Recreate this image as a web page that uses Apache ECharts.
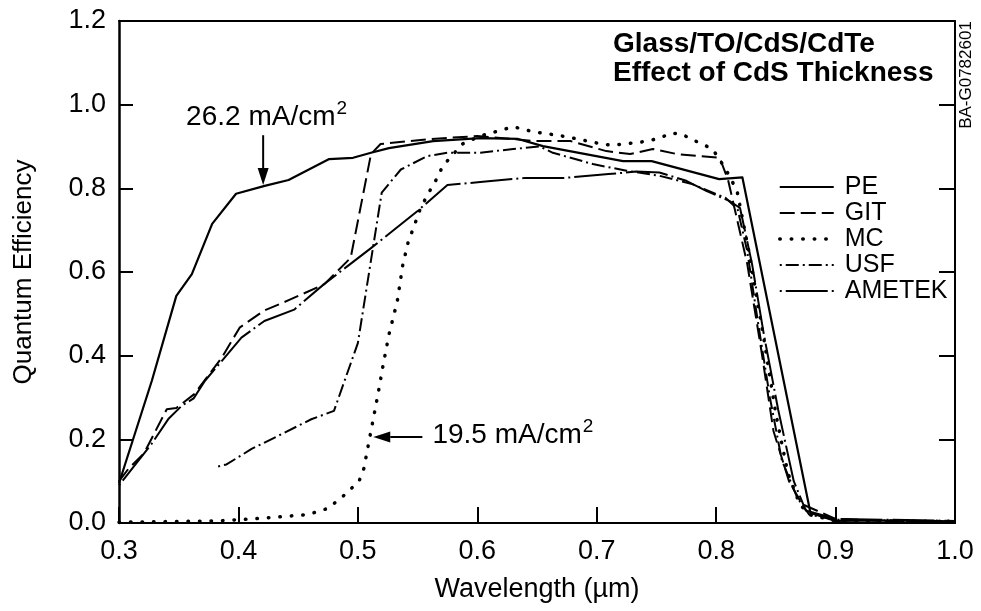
<!DOCTYPE html>
<html><head><meta charset="utf-8">
<script src="https://cdn.jsdelivr.net/npm/echarts@6/dist/echarts.min.js"></script>
<style>html,body{margin:0;padding:0;background:#fff}#c{width:981px;height:611px}</style>
</head><body><div id="c"></div>
<script>
const FONT = "'Liberation Sans', Arial, Helvetica, sans-serif";

// ---- tick labels ----
const xTickLabels = ['0.3','0.4','0.5','0.6','0.7','0.8','0.9','1.0'];
const yTickLabels = ['0.0','0.2','0.4','0.6','0.8','1.0','1.2'];
const seriesNames = ['PE','GIT','MC','USF','AMETEK'];

// ---- series values (wavelength in µm, quantum efficiency) ----
const peX = [0.3,0.3275,0.348,0.361,0.378,0.398,0.422,0.442,0.476,0.496,0.511,0.526,0.563,0.6025,0.634,0.655,0.722,0.746,0.8025,0.822,0.879,0.9,0.95,1.0];
const peY = [0.095,0.34,0.543,0.595,0.715,0.787,0.806,0.82,0.87,0.873,0.885,0.896,0.913,0.92,0.918,0.901,0.865,0.865,0.822,0.826,0.024,0.005,0.006,0.003];

const gitX = [0.3,0.308,0.321,0.34,0.348,0.363,0.386,0.401,0.421,0.444,0.472,0.494,0.511,0.519,0.561,0.6,0.63,0.648,0.678,0.708,0.728,0.747,0.767,0.803,0.81,0.826,0.838,0.848,0.861,0.872,0.9,0.95,1.0];
const gitY = [0.1,0.13,0.167,0.272,0.275,0.308,0.395,0.467,0.507,0.535,0.571,0.634,0.882,0.906,0.918,0.925,0.918,0.913,0.913,0.889,0.882,0.894,0.882,0.873,0.82,0.62,0.41,0.22,0.10,0.045,0.01,0.004,0.005];

const mcX = [0.3,0.33,0.36,0.383,0.413,0.458,0.475,0.488,0.501,0.505,0.509,0.513,0.517,0.521,0.526,0.533,0.5375,0.542,0.548,0.5525,0.561,0.5665,0.571,0.5875,0.6025,0.611,0.621,0.63,0.638,0.647,0.667,0.684,0.704,0.713,0.722,0.733,0.7425,0.7525,0.7625,0.771,0.779,0.788,0.797,0.808,0.8175,0.828,0.84,0.85,0.86,0.87,0.878,0.9,1.0];
const mcY = [0.002,0.003,0.004,0.005,0.01,0.02,0.035,0.065,0.10,0.13,0.19,0.25,0.31,0.375,0.45,0.53,0.615,0.67,0.717,0.753,0.798,0.825,0.853,0.906,0.925,0.932,0.94,0.947,0.942,0.935,0.927,0.918,0.906,0.903,0.906,0.909,0.913,0.92,0.932,0.93,0.918,0.906,0.894,0.846,0.794,0.64,0.44,0.26,0.12,0.045,0.02,0.005,0.004];

const usfX = [0.383,0.39,0.411,0.433,0.461,0.48,0.5,0.52,0.536,0.558,0.575,0.6025,0.63,0.6525,0.6633,0.6967,0.725,0.7525,0.78,0.808,0.818,0.826,0.835,0.845,0.855,0.868,0.878,0.9,1.0];
const usfY = [0.135,0.14,0.177,0.208,0.248,0.268,0.43,0.79,0.845,0.877,0.885,0.885,0.894,0.9,0.885,0.858,0.842,0.83,0.81,0.777,0.75,0.65,0.48,0.30,0.15,0.06,0.02,0.008,0.004];

const ametekX = [0.3,0.311,0.3275,0.3417,0.3525,0.3625,0.372,0.386,0.4025,0.4217,0.4467,0.4717,0.511,0.55,0.575,0.6025,0.64,0.673,0.71,0.733,0.7525,0.775,0.7917,0.811,0.82,0.83,0.84,0.852,0.865,0.875,0.9,1.0];
const ametekY = [0.09,0.13,0.19,0.25,0.28,0.298,0.34,0.387,0.443,0.483,0.51,0.571,0.657,0.746,0.808,0.815,0.825,0.825,0.834,0.84,0.838,0.818,0.794,0.77,0.753,0.62,0.45,0.27,0.10,0.03,0.01,0.005];

// ---- texts ----
const titleLines = ['Glass/TO/CdS/CdTe', 'Effect of CdS Thickness'];
const sideLabel = 'BA-G0782601';
const xName = 'Wavelength (\u00B5m)';
const yName = 'Quantum Efficiency';
const annotations = [
  { text: '26.2 mA/cm', sup: '2', textAt: [0.3562, 0.969], tip: [0.4207, 0.808], tail: [0.4207, 0.927] },
  { text: '19.5 mA/cm', sup: '2', textAt: [0.5624, 0.209], tip: [0.5129, 0.2055], tail: [0.554, 0.2055] }
];

function pts(xs, ys) { return xs.map((x, i) => [x, ys[i]]); }

const styles = {
  PE:     { width: 2.2, type: 'solid', cap: 'butt' },
  GIT:    { width: 2,   type: [15, 6], cap: 'butt' },
  MC:     { width: 3.5, type: [0.5, 11], cap: 'round' },
  USF:    { width: 2,   type: [2, 4, 13, 4], cap: 'butt' },
  AMETEK: { width: 2,   type: [2, 4, 42, 4], cap: 'butt' }
};
const dataSets = { PE: pts(peX, peY), GIT: pts(gitX, gitY), MC: pts(mcX, mcY), USF: pts(usfX, usfY), AMETEK: pts(ametekX, ametekY) };

const axisLineStyle = { color: '#000', width: 2 };
const option = {
  animation: false,
  backgroundColor: '#fff',
  grid: { left: 119, right: 26, top: 21, bottom: 88, containLabel: false, outerBoundsMode: 'none' },
  legend: {
    orient: 'vertical', left: 778, top: 174, padding: 0,
    itemWidth: 54, itemHeight: 14, itemGap: 0,
    selectedMode: false,
    itemStyle: { opacity: 0 },
    lineStyle: { width: 'inherit' },
    textStyle: { fontSize: 25, lineHeight: 26, color: '#000', fontFamily: FONT, padding: [0, 0, 0, 6] },
    data: seriesNames
  },
  xAxis: [
    {
      type: 'value', min: 0.3, max: 1.0, interval: 0.1, position: 'bottom',
      name: xName, nameLocation: 'middle', nameGap: 53,
      nameTextStyle: { fontSize: 27, color: '#000', fontFamily: FONT },
      axisLine: { show: true, onZero: false, lineStyle: axisLineStyle },
      axisTick: { show: true, inside: true, length: 16, lineStyle: { color: '#000', width: 2 } },
      axisLabel: { margin: 15, fontSize: 27, color: '#000', fontFamily: FONT,
        formatter: v => xTickLabels[Math.round((v - 0.3) * 10)] },
      splitLine: { show: false }
    },
    {
      type: 'value', min: 0.3, max: 1.0, interval: 0.1, position: 'top',
      axisLine: { show: true, onZero: false, lineStyle: axisLineStyle },
      axisTick: { show: false }, axisLabel: { show: false }, splitLine: { show: false }
    }
  ],
  yAxis: [
    {
      type: 'value', min: 0, max: 1.2, interval: 0.2, position: 'left',
      name: yName, nameLocation: 'middle', nameGap: 82, nameRotate: 90,
      nameTextStyle: { fontSize: 26, color: '#000', fontFamily: FONT },
      axisLine: { show: true, onZero: false, lineStyle: { color: '#000', width: 2.5 } },
      axisTick: { show: true, inside: true, length: 14, lineStyle: { color: '#000', width: 2 } },
      axisLabel: { margin: 13, fontSize: 27, color: '#000', fontFamily: FONT,
        formatter: v => yTickLabels[Math.round(v * 5)] },
      splitLine: { show: false }
    },
    {
      type: 'value', min: 0, max: 1.2, interval: 0.2, position: 'right',
      axisLine: { show: true, onZero: false, lineStyle: axisLineStyle },
      axisTick: { show: true, inside: true, length: 16, lineStyle: { color: '#000', width: 2 } },
      axisLabel: { show: false }, splitLine: { show: false }
    }
  ],
  series: seriesNames.map(n => ({
    name: n, type: 'line', xAxisIndex: 0, yAxisIndex: 0,
    data: dataSets[n], symbol: 'none', showSymbol: false, smooth: false,
    itemStyle: { color: '#000' },
    lineStyle: { color: '#000', width: styles[n].width, type: styles[n].type, cap: styles[n].cap, join: 'round' },
    emphasis: { disabled: true }
  }))
};

const chart = echarts.init(document.getElementById('c'), null, { renderer: 'canvas' });
chart.setOption(option);

const ctx = document.createElement('canvas').getContext('2d');
function measure(t, size) { ctx.font = size + 'px ' + FONT; return ctx.measureText(t).width; }
function toPx(p) { return chart.convertToPixel({ gridIndex: 0 }, p); }

const graphics = [];
// title
titleLines.forEach((t, i) => {
  graphics.push({ type: 'text', x: 613, y: 44 + i * 29, silent: true,
    style: { text: t, font: 'bold 28px ' + FONT, fill: '#000', textAlign: 'left', textVerticalAlign: 'middle', verticalAlign: 'middle' } });
});
// side code label
graphics.push({ type: 'text', x: 966, y: 75, rotation: Math.PI / 2, silent: true,
  style: { text: sideLabel, font: '17px ' + FONT, fill: '#000', textAlign: 'center', textVerticalAlign: 'middle', verticalAlign: 'middle' } });
// annotations
annotations.forEach(a => {
  const tp = toPx(a.textAt);
  const w = measure(a.text, 28);
  graphics.push({ type: 'text', x: tp[0], y: tp[1], silent: true,
    style: { text: a.text, font: '28px ' + FONT, fill: '#000', textAlign: 'left', textVerticalAlign: 'middle', verticalAlign: 'middle' } });
  graphics.push({ type: 'text', x: tp[0] + w + 1, y: tp[1] - 9, silent: true,
    style: { text: a.sup, font: '19px ' + FONT, fill: '#000', textAlign: 'left', textVerticalAlign: 'middle', verticalAlign: 'middle' } });
  const tip = toPx(a.tip), tail = toPx(a.tail);
  const dx = tip[0] - tail[0], dy = tip[1] - tail[1];
  const L = Math.hypot(dx, dy), ux = dx / L, uy = dy / L;
  const hl = 17, hw = 5.5;
  const bx = tip[0] - ux * hl, by = tip[1] - uy * hl;
  graphics.push({ type: 'line', silent: true, shape: { x1: tail[0], y1: tail[1], x2: bx, y2: by },
    style: { stroke: '#000', lineWidth: 2 } });
  graphics.push({ type: 'polygon', silent: true,
    shape: { points: [[tip[0], tip[1]], [bx - uy * hw, by + ux * hw], [bx + uy * hw, by - ux * hw]] },
    style: { fill: '#000' } });
});
chart.setOption({ graphic: graphics });
</script>
</body></html>
